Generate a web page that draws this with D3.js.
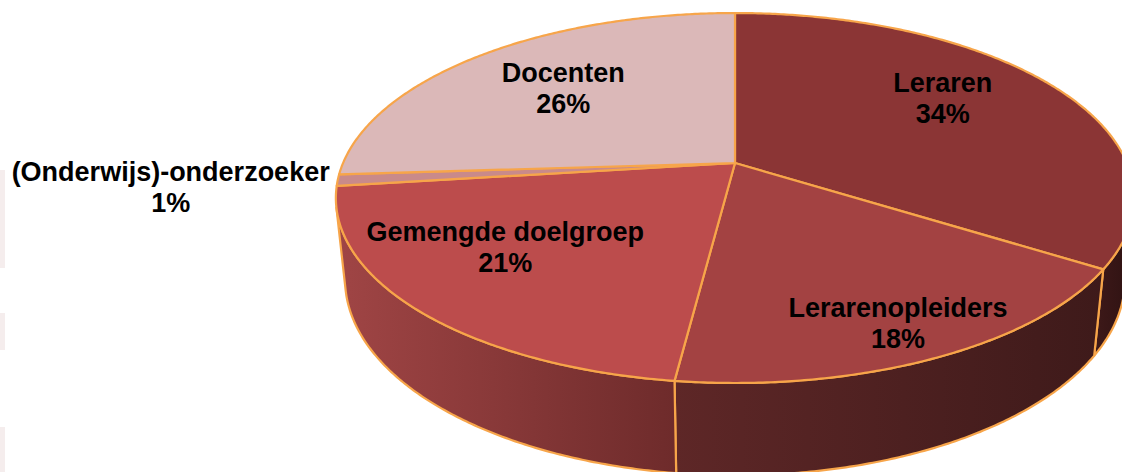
<!DOCTYPE html>
<html>
<head>
<meta charset="utf-8">
<script src="https://cdn.jsdelivr.net/npm/d3@7"></script>
<style>
  body { margin: 0; background: #fff; }
  svg { display: block; }
  text { font-family: "Liberation Sans", Arial, sans-serif; font-weight: bold; }
</style>
</head>
<body>
<div id="chart"></div>
<script>
// data
const categories = ["Leraren", "Lerarenopleiders", "Gemengde doelgroep", "(Onderwijs)-onderzoeker", "Docenten"];
const values = [34, 18, 21, 1, 26];
const percentLabels = ["34%", "18%", "21%", "1%", "26%"];

// styles
const topColors = ["#8B3535", "#A34242", "#BC4C4C", "#C98A8A", "#DBB8B8"];
const sideColors = [["#3E1919", "#2E1212"], ["#5E2727", "#3E1A1A"], ["#A04545", "#6E2B2B"], ["#B07070", "#906060"], ["#C0A0A0", "#A08080"]];
const edgeColor = "#F7A54A";
// label placement: radius fraction and angle tweak (deg)
const labelLayout = [[0.69, -5.6], [0.845, 0.3], [0.69, 6.3], [1.41, 0], [0.66, 0.6]];

const width = 1122, height = 472;
const cx = 735, cy = 163;
const tilt = 27.07 * Math.PI / 180;
const sinT = Math.sin(tilt), cosT = Math.cos(tilt);
const D = 4.705, F = 1844, thick = 0.235;

// perspective projection of a point on the disk (theta clockwise from back)
function project(theta, r, y) {
  const X = r * Math.sin(theta), Z = r * Math.cos(theta);
  const zc = D + Z * cosT - y * sinT;
  return [cx + F * X / zc, cy - F * (Z * sinT + y * cosT) / zc];
}

function arcPoints(a0, a1, r, y) {
  const n = Math.max(2, Math.ceil(Math.abs(a1 - a0) / (Math.PI / 360)));
  return d3.range(n + 1).map(i => project(a0 + (a1 - a0) * i / n, r, y));
}

const svg = d3.select("#chart").append("svg")
  .attr("width", width)
  .attr("height", height);

svg.append("rect").attr("width", width).attr("height", height).attr("fill", "#fff");

// faint slide decoration at the left edge
[[170, 98], [313, 37], [427, 45]].forEach(([y, h]) => {
  svg.append("rect").attr("x", 0).attr("y", y).attr("width", 5).attr("height", h).attr("fill", "#F5EDED");
});

const pie = d3.pie().sort(null).value(d => d)(values);
const line = d3.line();
const defs = svg.append("defs");

// visible part of the outer wall
const visLimit = Math.acos(-1 / (D * cosT));
const vis0 = visLimit, vis1 = 2 * Math.PI - visLimit;

const sides = svg.append("g");
pie.forEach((p, i) => {
  const a0 = Math.max(p.startAngle, vis0), a1 = Math.min(p.endAngle, vis1);
  if (a1 <= a0) return;
  const pts = arcPoints(a0, a1, 1, 0).concat(arcPoints(a1, a0, 1, -thick));
  const xs = pts.map(d => d[0]);
  const grad = defs.append("linearGradient")
    .attr("id", "side" + i)
    .attr("gradientUnits", "userSpaceOnUse")
    .attr("x1", d3.min(xs)).attr("x2", d3.max(xs))
    .attr("y1", 0).attr("y2", 0);
  grad.append("stop").attr("offset", 0).attr("stop-color", sideColors[i][0]);
  grad.append("stop").attr("offset", 1).attr("stop-color", sideColors[i][1]);
  sides.append("path")
    .attr("d", line(pts) + "Z")
    .attr("fill", `url(#side${i})`)
    .attr("stroke", edgeColor)
    .attr("stroke-width", 2.2)
    .attr("stroke-linejoin", "round");
});

const tops = svg.append("g");
pie.forEach((p, i) => {
  const pts = [project(0, 0, 0)].concat(arcPoints(p.startAngle, p.endAngle, 1, 0));
  tops.append("path")
    .attr("d", line(pts) + "Z")
    .attr("fill", topColors[i])
    .attr("stroke", edgeColor)
    .attr("stroke-width", 2.2)
    .attr("stroke-linejoin", "round");
});

const labels = svg.append("g");
pie.forEach((p, i) => {
  const mid = (p.startAngle + p.endAngle) / 2 + labelLayout[i][1] * Math.PI / 180;
  const [x, y] = project(mid, labelLayout[i][0], 0);
  const t = labels.append("text")
    .attr("text-anchor", "middle")
    .style("font-size", "27px")
    .attr("fill", "#000");
  t.append("tspan").attr("x", x).attr("y", y - 6).text(categories[i]);
  t.append("tspan").attr("x", x).attr("y", y + 25).text(percentLabels[i]);
});
</script>
</body>
</html>
